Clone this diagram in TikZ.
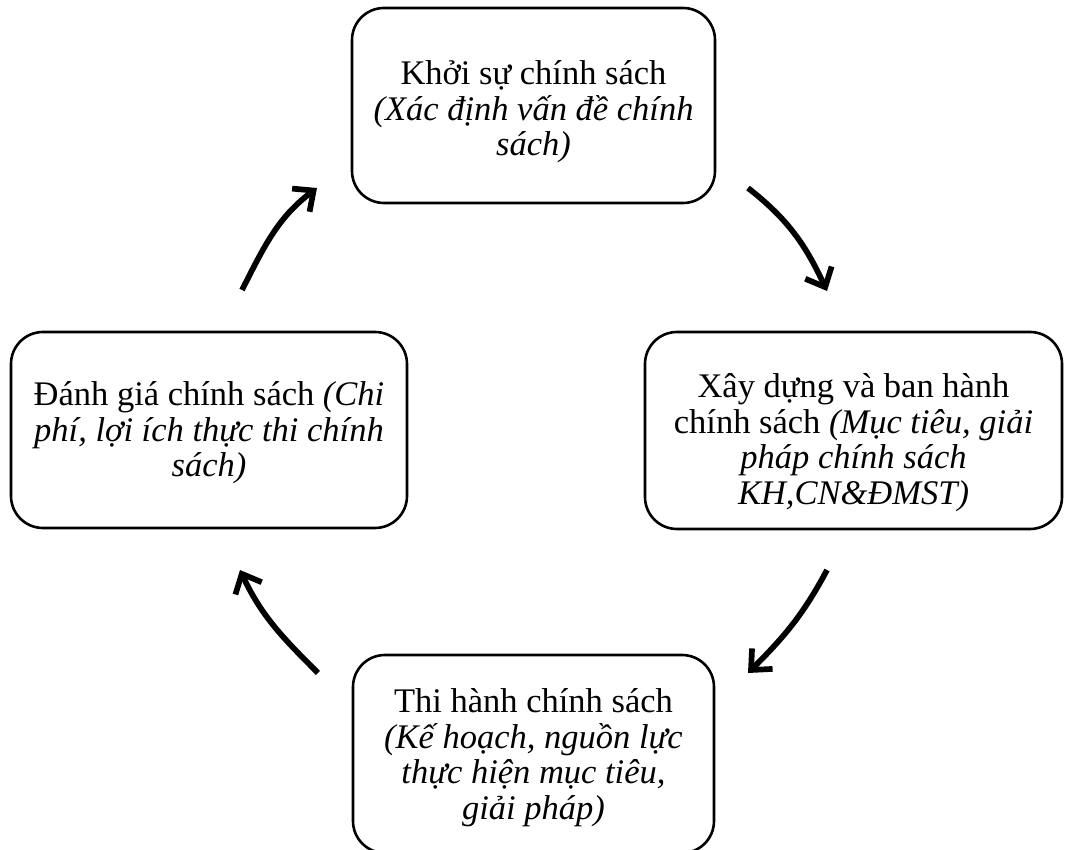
\documentclass[tikz,border=0pt]{standalone}
\usepackage{fontspec}
\setmainfont{Liberation Serif}
\usetikzlibrary{arrows.meta}
\newcommand{\hgt}[1]{\rule{0pt}{#1}}
\begin{document}
\begin{tikzpicture}[x=1pt,y=1pt,
  box/.style={draw=black, line width=2.6pt, rounded corners=32pt, align=center,
    font=\fontsize{34.5}{35.5}\selectfont, inner sep=0pt},
  flow/.style={line width=5.7pt, -{Straight Barb[length=16pt,width=29pt]}}]
\useasboundingbox (0,0) rectangle (1065,850);
\clip (0,0) rectangle (1065,850);
\node[box, minimum width=363pt, minimum height=195pt] (top) at (533.5,744.5)
  {\hgt{37pt}Khởi sự chính sách\\ \textit{(Xác định vấn đề chính}\\ \textit{sách)}};
\node[box, minimum width=417pt, minimum height=197pt] (right) at (853.5,419.5)
  {\hgt{48pt}Xây dựng và ban hành\\ chính sách \textit{(Mục tiêu, giải}\\ \textit{pháp chính sách}\\ \textit{KH,CN\&ĐMST)}};
\node[box, minimum width=396pt, minimum height=196pt] (left) at (209,420)
  {\hgt{30pt}Đánh giá chính sách \textit{(Chi}\\ \textit{phí, lợi ích thực thi chính}\\ \textit{sách)}};
\node[box, minimum width=361pt, minimum height=198pt] (bottom) at (533.5,96)
  {\hgt{31pt}Thi hành chính sách\\ \textit{(Kế hoạch, nguồn lực}\\ \textit{thực hiện mục tiêu,}\\ \textit{giải pháp)}};
\coordinate (a1s) at (748,662);
\coordinate (a1e) at (827,559);
\coordinate (a2s) at (827,280);
\coordinate (a2e) at (748,177);
\coordinate (a3s) at (318,177);
\coordinate (a3e) at (240,280);
\coordinate (a4s) at (242,560);
\coordinate (a4e) at (317,662);
\draw[flow] (a1s) to[out=-38, in=115] (a1e);
\draw[flow] (a2s) to[out=-118, in=45] (a2e);
\draw[flow] (a3s) to[out=135, in=-65] (a3e);
\draw[flow] (a4s) to[out=63, in=-143] (a4e);
\end{tikzpicture}
\end{document}
